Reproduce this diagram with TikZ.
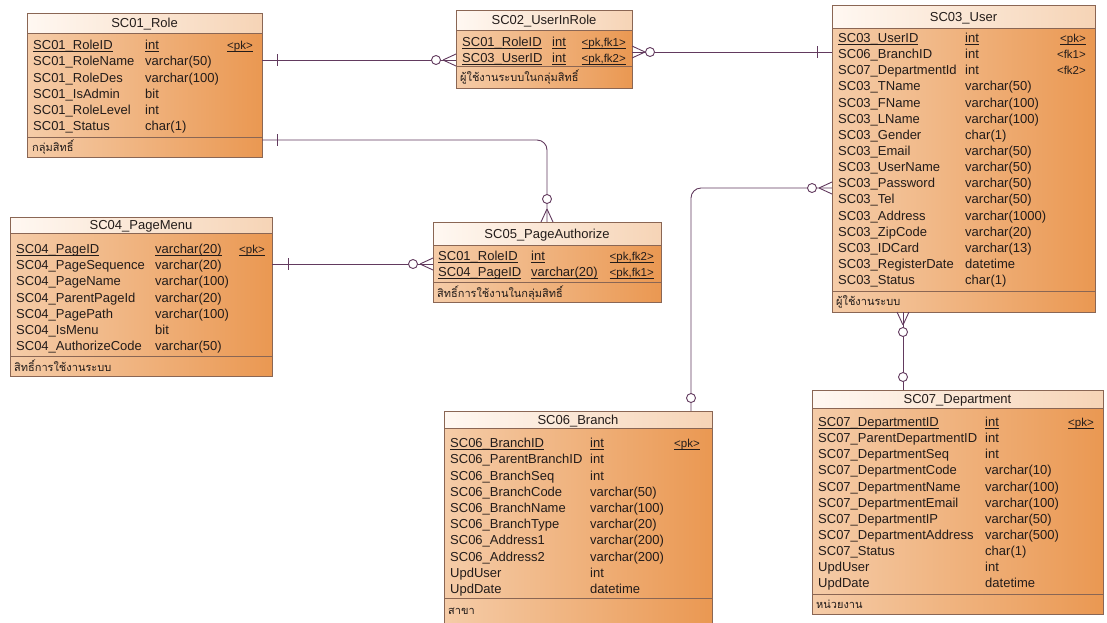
\documentclass[tikz,border=0pt]{standalone}
\usepackage{fontspec}
\setmainfont{Liberation Sans}
\newfontfamily\thaifont[Script=Thai]{Loma}
\usetikzlibrary{calc}
\definecolor{bord}{HTML}{8A6654}
\definecolor{lnk}{HTML}{623A5E}
\definecolor{bodyL}{HTML}{F5CCA8}
\definecolor{bodyR}{HTML}{EA9852}
\definecolor{headL}{HTML}{FFF8F2}
\definecolor{headR}{HTML}{F6D4B6}
\definecolor{txt}{HTML}{231C1A}
\newcounter{fc}
\newcommand{\ul}[1]{\setbox0\hbox{#1}\rlap{\rule[-2pt]{\wd0}{0.6pt}}\box0}
\newcommand{\ertable}[8]{%
  \node[tbl, minimum width={#4pt-#2pt}, minimum height={#7pt-#3pt}] (#1) at (#2,#3) {};
  \shade[left color=headL, right color=headR] (#2,#3) rectangle (#4,#5);
  \draw[bord] (#2,#5) -- (#4,#5) (#2,#6) -- (#4,#6);
  \draw[bord] (#1.north west) rectangle (#1.south east);
  \node[ttl] (#1h) at ({(#2+#4)/2},{(#3+#5)/2+4.6}) {#8};
}
\newcommand{\erow}[5]{%
  \stepcounter{fc}%
  \node[fld] (n\number\value{fc}) at (#1,#3+4.6) {#4};
  \node[fld] (t\number\value{fc}) at (#2,#3+4.6) {#5};
}
\newcommand{\erowk}[7]{%
  \stepcounter{fc}%
  \node[fld] (n\number\value{fc}) at (#1,#4+4.6) {#5};
  \node[fld] (t\number\value{fc}) at (#2,#4+4.6) {#6};
  \node[key] (k\number\value{fc}) at (#3,#4+4.6) {#7};
}
\newcommand{\eftr}[4]{\node[ftr] (#1) at (#2,#3+4) {#4};}
\newcommand{\tickH}[2]{\draw[rel] (#1,#2-6) -- (#1,#2+6);}
\newcommand{\ringat}[2]{\draw[ring] (#1,#2) circle (4.5pt);}
\newcommand{\crowH}[3]{\draw[rel] (#1,#2) -- (#3,#2-6) (#1,#2) -- (#3,#2+6);}
\newcommand{\crowV}[3]{\draw[rel] (#1,#2) -- (#1-6,#3) (#1,#2) -- (#1+6,#3);}
\begin{document}
\begin{tikzpicture}[x=1pt,y=-1pt,
  tbl/.style={left color=bodyL, right color=bodyR, inner sep=0pt, outer sep=0pt, anchor=north west},
  bord/.style={draw=bord, line width=0.8pt},
  fld/.style={anchor=base west, inner sep=0pt, text=txt, font=\fontsize{13}{15}\selectfont},
  key/.style={anchor=base east, inner sep=0pt, text=txt, font=\fontsize{11.5}{13}\selectfont},
  ttl/.style={anchor=base, inner sep=0pt, text=txt, font=\fontsize{13}{15}\selectfont},
  ftr/.style={anchor=base west, inner sep=0pt, text=txt, font=\thaifont\fontsize{11}{13}\selectfont},
  rel/.style={draw=lnk, line width=0.9pt},
  ring/.style={draw=lnk, fill=white, line width=0.9pt}]
\useasboundingbox (0,0) rectangle (1107,622);
\clip (0,0) rectangle (1107,622);
\fill[white] (0,0) rectangle (1107,622);

% SC01_Role
\ertable{r1}{27}{13}{262}{33}{137}{157}{SC01\_Role}
\erowk{33}{145}{253}{45}{\ul{SC01\_RoleID}}{\ul{int}}{\ul{<pk>}}
\erow{33}{145}{61.2}{SC01\_RoleName}{varchar(50)}
\erow{33}{145}{77.4}{SC01\_RoleDes}{varchar(100)}
\erow{33}{145}{93.6}{SC01\_IsAdmin}{bit}
\erow{33}{145}{109.8}{SC01\_RoleLevel}{int}
\erow{33}{145}{126}{SC01\_Status}{char(1)}
\eftr{f1}{32}{147}{กลุ่มสิทธิ์}

% SC02_UserInRole
\ertable{r2}{456}{10}{632}{30}{66}{88}{SC02\_UserInRole}
\erowk{462}{552}{626}{42}{\ul{SC01\_RoleID}}{\ul{int}}{\ul{<pk,fk1>}}
\erowk{462}{552}{626}{58}{\ul{SC03\_UserID}}{\ul{int}}{\ul{<pk,fk2>}}
\eftr{f2}{460}{77}{ผู้ใช้งานระบบในกลุ่มสิทธิ์}

% SC03_User
\ertable{r3}{832}{5}{1095}{28}{291}{312}{SC03\_User}
\erowk{838}{965}{1086}{38}{\ul{SC03\_UserID}}{\ul{int}}{\ul{<pk>}}
\erowk{838}{965}{1086}{38+16.13*1}{SC06\_BranchID}{int}{<fk1>}
\erowk{838}{965}{1086}{38+16.13*2}{SC07\_DepartmentId}{int}{<fk2>}
\erow{838}{965}{38+16.13*3}{SC03\_TName}{varchar(50)}
\erow{838}{965}{38+16.13*4}{SC03\_FName}{varchar(100)}
\erow{838}{965}{38+16.13*5}{SC03\_LName}{varchar(100)}
\erow{838}{965}{38+16.13*6}{SC03\_Gender}{char(1)}
\erow{838}{965}{38+16.13*7}{SC03\_Email}{varchar(50)}
\erow{838}{965}{38+16.13*8}{SC03\_UserName}{varchar(50)}
\erow{838}{965}{38+16.13*9}{SC03\_Password}{varchar(50)}
\erow{838}{965}{38+16.13*10}{SC03\_Tel}{varchar(50)}
\erow{838}{965}{38+16.13*11}{SC03\_Address}{varchar(1000)}
\erow{838}{965}{38+16.13*12}{SC03\_ZipCode}{varchar(20)}
\erow{838}{965}{38+16.13*13}{SC03\_IDCard}{varchar(13)}
\erow{838}{965}{38+16.13*14}{SC03\_RegisterDate}{datetime}
\erow{838}{965}{38+16.13*15}{SC03\_Status}{char(1)}
\eftr{f3}{836}{301}{ผู้ใช้งานระบบ}

% SC04_PageMenu
\ertable{r4}{10}{217}{272}{233}{356}{376}{SC04\_PageMenu}
\erowk{16}{155}{265}{249}{\ul{SC04\_PageID}}{\ul{varchar(20)}}{\ul{<pk>}}
\erow{16}{155}{249+16.17*1}{SC04\_PageSequence}{varchar(20)}
\erow{16}{155}{249+16.17*2}{SC04\_PageName}{varchar(100)}
\erow{16}{155}{249+16.17*3}{SC04\_ParentPageId}{varchar(20)}
\erow{16}{155}{249+16.17*4}{SC04\_PagePath}{varchar(100)}
\erow{16}{155}{249+16.17*5}{SC04\_IsMenu}{bit}
\erow{16}{155}{249+16.17*6}{SC04\_AuthorizeCode}{varchar(50)}
\eftr{f4}{14}{367}{สิทธิ์การใช้งานระบบ}

% SC05_PageAuthorize
\ertable{r5}{433}{222}{661}{245}{282}{302}{SC05\_PageAuthorize}
\erowk{438}{531}{654}{256}{\ul{SC01\_RoleID}}{\ul{int}}{\ul{<pk,fk2>}}
\erowk{438}{531}{654}{272}{\ul{SC04\_PageID}}{\ul{varchar(20)}}{\ul{<pk,fk1>}}
\eftr{f5}{437}{293}{สิทธิ์การใช้งานในกลุ่มสิทธิ์}

% SC06_Branch
\ertable{r6}{444}{411}{712}{428}{598}{640}{SC06\_Branch}
\erowk{450}{590}{700}{443}{\ul{SC06\_BranchID}}{\ul{int}}{\ul{<pk>}}
\erow{450}{590}{443+16.2*1}{SC06\_ParentBranchID}{int}
\erow{450}{590}{443+16.2*2}{SC06\_BranchSeq}{int}
\erow{450}{590}{443+16.2*3}{SC06\_BranchCode}{varchar(50)}
\erow{450}{590}{443+16.2*4}{SC06\_BranchName}{varchar(100)}
\erow{450}{590}{443+16.2*5}{SC06\_BranchType}{varchar(20)}
\erow{450}{590}{443+16.2*6}{SC06\_Address1}{varchar(200)}
\erow{450}{590}{443+16.2*7}{SC06\_Address2}{varchar(200)}
\erow{450}{590}{443+16.2*8}{UpdUser}{int}
\erow{450}{590}{443+16.2*9}{UpdDate}{datetime}
\eftr{f6}{448}{610}{สาขา}

% SC07_Department
\ertable{r7}{812}{390}{1103}{408}{594}{614}{SC07\_Department}
\erowk{818}{985}{1094}{422}{\ul{SC07\_DepartmentID}}{\ul{int}}{\ul{<pk>}}
\erow{818}{985}{422+16.1*1}{SC07\_ParentDepartmentID}{int}
\erow{818}{985}{422+16.1*2}{SC07\_DepartmentSeq}{int}
\erow{818}{985}{422+16.1*3}{SC07\_DepartmentCode}{varchar(10)}
\erow{818}{985}{422+16.1*4}{SC07\_DepartmentName}{varchar(100)}
\erow{818}{985}{422+16.1*5}{SC07\_DepartmentEmail}{varchar(100)}
\erow{818}{985}{422+16.1*6}{SC07\_DepartmentIP}{varchar(50)}
\erow{818}{985}{422+16.1*7}{SC07\_DepartmentAddress}{varchar(500)}
\erow{818}{985}{422+16.1*8}{SC07\_Status}{char(1)}
\erow{818}{985}{422+16.1*9}{UpdUser}{int}
\erow{818}{985}{422+16.1*10}{UpdDate}{datetime}
\eftr{f7}{816}{604}{หน่วยงาน}

% connectors
% SC01 -> SC02
\draw[rel] (r1.east |- 0,60) -- (r2.west |- 0,60);
\tickH{277}{60}
\crowH{443}{60}{456}
\ringat{436}{60}
% SC02 -> SC03
\draw[rel] (r2.east |- 0,52) -- (r3.west |- 0,52);
\crowH{645}{52}{632}
\ringat{650}{52}
\tickH{817}{52}
% SC01 -> SC05
\draw[rel, rounded corners=10pt] (r1.east |- 0,140) -| (r5.north);
\tickH{277}{140}
\crowV{547}{209}{222}
\ringat{547}{199}
% SC04 -> SC05
\draw[rel] (r4.east |- 0,264) -- (r5.west |- 0,264);
\tickH{288}{264}
\crowH{420}{264}{433}
\ringat{413}{264}
% SC06 -> SC03
\draw[rel, rounded corners=10pt] (r3.west |- 0,188) -| (r6.north -| 691,0);
\crowH{819}{188}{832}
\ringat{812}{188}
\ringat{691}{398}
% SC07 -> SC03
\draw[rel] (r3.south -| 903,0) -- (r7.north -| 903,0);
\crowV{903}{325}{312}
\ringat{903}{332}
\ringat{903}{377}
\end{tikzpicture}
\end{document}
